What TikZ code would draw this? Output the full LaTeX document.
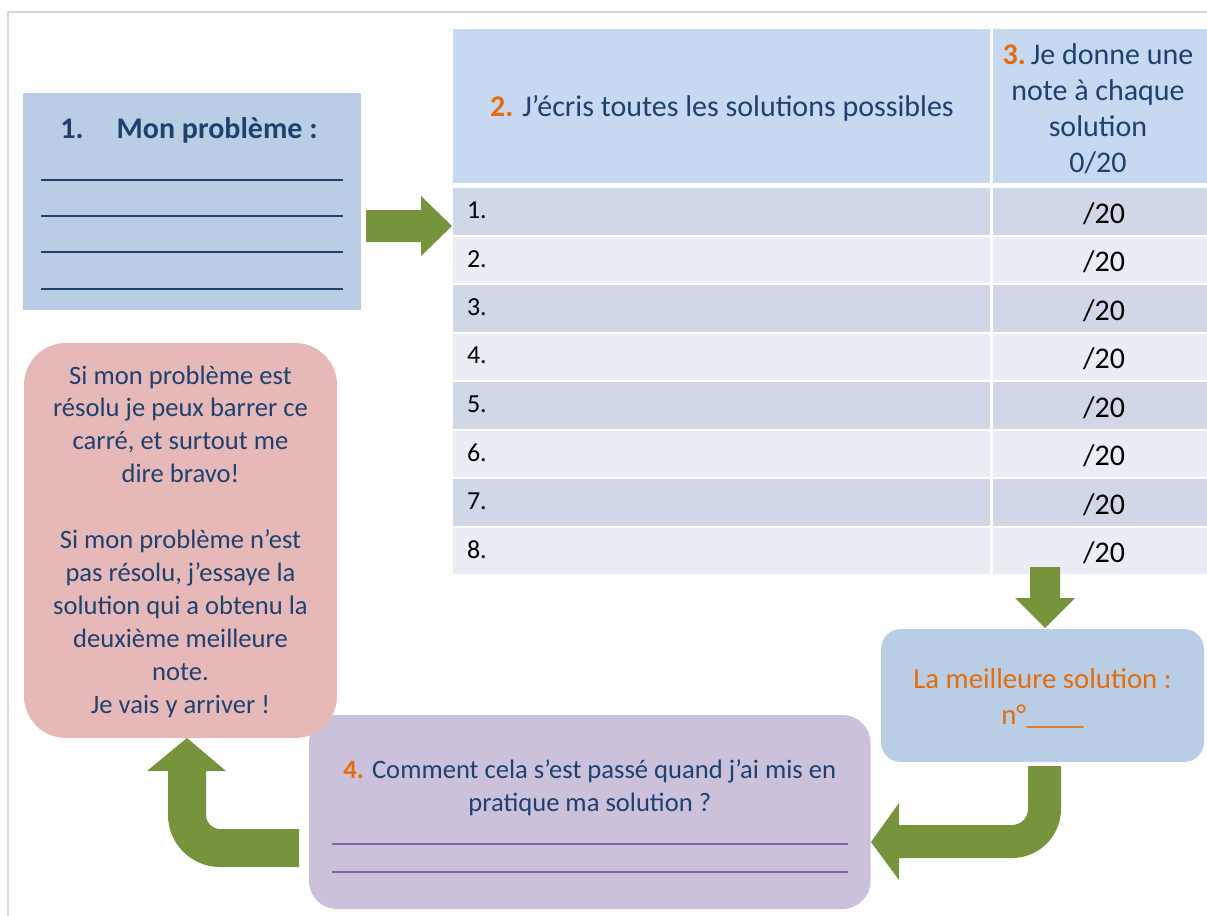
\documentclass[tikz,border=0pt]{standalone}
\usepackage{fontspec}
\setmainfont{Carlito}
\usetikzlibrary{calc}
\usepackage{xcolor}

\definecolor{txtblue}{HTML}{1F4170}
\definecolor{hdrblue}{HTML}{C6D9F1}
\definecolor{boxblue}{HTML}{B9CDE5}
\definecolor{rowdark}{HTML}{D0D8E8}
\definecolor{rowlight}{HTML}{E9EDF4}
\definecolor{pinkbox}{HTML}{E6B9B8}
\definecolor{lilac}{HTML}{CCC1DA}
\definecolor{lilacline}{HTML}{8064A2}
\definecolor{arrowgreen}{HTML}{77933C}
\definecolor{numorange}{HTML}{E46C0A}
\definecolor{framegray}{HTML}{D9D9D9}

\tikzset{
        cell/.style={inner sep=0pt, outer sep=0pt, anchor=north west},
        hdrtext/.style={text=txtblue, align=center, font=\fontsize{15}{18}\selectfont},
        bodytext/.style={text=txtblue, align=center, font=\fontsize{13.3}{16.45}\selectfont},
        rownum/.style={anchor=west, font=\fontsize{13}{15}\selectfont},
        rowscore/.style={font=\fontsize{15}{18}\selectfont},
        blockarrow/.style={fill=arrowgreen}
}

\begin{document}
\begin{tikzpicture}[x=0.5pt,y=-0.5pt]

        % Page
        \useasboundingbox (0,0) rectangle (1207,916);
        \fill[white] (0,0) rectangle (1207,916);
        \draw[framegray, line width=0.6pt] (1207,12) -- (8,12) -- (8,916);

        % Step 1
        \node[cell, fill=boxblue, minimum width=169pt, minimum height=108.5pt] (prob) at (23,93) {};
        \node[text=txtblue, font=\bfseries\fontsize{15}{18}\selectfont] (probtitle)
          at ($(prob.north)+(-3,37)$) {1.\hspace{16.5pt}Mon problème :};
        \foreach \y in {87,123,159,196}
        {
          \draw[txtblue, line width=1pt] ($(prob.north west)+(18,\y)$) -- ($(prob.north east)+(-18,\y)$);
        }

        % Table header
        \node[cell, fill=hdrblue, minimum width=268.5pt, minimum height=77pt] (hsol) at (453,29) {};
        \node[cell, fill=hdrblue, minimum width=107pt, minimum height=77pt] (hnote) at (993,29) {};
        \node[hdrtext] (hsoltxt) at ($(hsol.center)+(0.5,2)$)
          {\textcolor{numorange}{\textbf{2.}} J’écris toutes les solutions possibles};
        \node[hdrtext] (hnotetxt) at ($(hnote.center)+(-2,2.5)$)
          {\textcolor{numorange}{\textbf{3.}}\,Je donne une\\note à chaque\\solution\\0/20};

        % Table rows
        \foreach \i in {1,...,8}
        {
          \pgfmathsetmacro\rowtop{188+48.5*(\i-1)}
          \pgfmathtruncatemacro\odd{mod(\i,2)}
          \ifnum\odd=1 \def\rowcol{rowdark}\else\def\rowcol{rowlight}\fi
          \node[cell, fill=\rowcol, minimum width=268.5pt, minimum height=23.25pt] (sol\i) at (453,\rowtop) {};
          \node[cell, fill=\rowcol, minimum width=107pt, minimum height=23.25pt] (note\i) at (993,\rowtop) {};
          \node[rownum] (solnum\i) at ($(sol\i.west)+(7,-1)$) {\i.};
          \node[rowscore] (score\i) at ($(note\i.center)+(4,2)$) {/20};
        }

        % Best solution
        \node[cell, fill=boxblue, rounded corners=10pt, minimum width=161.5pt, minimum height=66.5pt] (best) at (881,629) {};
        \node[text=numorange, align=center, font=\fontsize{14.4}{18}\selectfont] (besttxt)
          at ($(best.center)+(0,2.5)$) {La meilleure solution :\\n°\_\_\_\_};

        % Step 4
        \node[cell, fill=lilac, rounded corners=14pt, minimum width=280.75pt, minimum height=97pt] (eval) at (309,715) {};
        \node[bodytext] (evaltxt) at ($(eval.north)+(0,72.5)$)
          {\textcolor{numorange}{\textbf{4.}} Comment cela s’est passé quand j’ai mis en\\pratique ma solution ?};
        \foreach \y in {129,157}
        {
          \draw[lilacline, line width=1pt] ($(eval.north west)+(23,\y)$) -- ($(eval.north east)+(-22.5,\y)$);
        }

        % Conclusion
        \node[cell, fill=pinkbox, rounded corners=21pt, minimum width=156.5pt, minimum height=197.5pt] (pink) at (24,343) {};
        \node[bodytext] (pinktxt) at ($(pink.center)+(0,1)$)
          {Si mon problème est\\résolu je peux barrer ce\\carré, et surtout me\\dire bravo!\\[16.45pt]
           Si mon problème n’est\\pas résolu, j’essaye la\\solution qui a obtenu la\\deuxième meilleure\\note.\\Je vais y arriver !};

        % Arrows
        \fill[blockarrow] ($(prob.east)+(5,8.5)$) -- ++(55,0) -- ++(0,-14) -- ++(31,30)
          -- ++(-31,30) -- ++(0,-14) -- ++(-55,0) -- cycle;
        \fill[blockarrow] ($(note8.south)+(-70,-7)$) -- ++(30,0) -- ++(0,31) -- ++(15,0)
          -- ++(-30,30) -- ++(-30,-30) -- ++(15,0) -- cycle;
        \fill[blockarrow] ($(best.south)+(-14.5,4)$) -- ++(33,0) -- ++(0,43)
          arc[start angle=0, end angle=90, radius=49] -- ++(-113,0) -- ++(0,22) -- ++(-28,-38)
          -- ++(28,-39) -- ++(0,22) -- ++(113,0) arc[start angle=90, end angle=0, radius=16] -- cycle;
        \fill[blockarrow] ($(eval.west)+(-10,17)$) -- ++(-79,0)
          arc[start angle=90, end angle=180, radius=14] -- ++(0,-44) -- ++(20,0) -- ++(-39,-33)
          -- ++(-40,33) -- ++(21,0) -- ++(0,44) arc[start angle=180, end angle=90, radius=52]
          -- ++(79,0) -- cycle;

    \end{tikzpicture}
\end{document}
